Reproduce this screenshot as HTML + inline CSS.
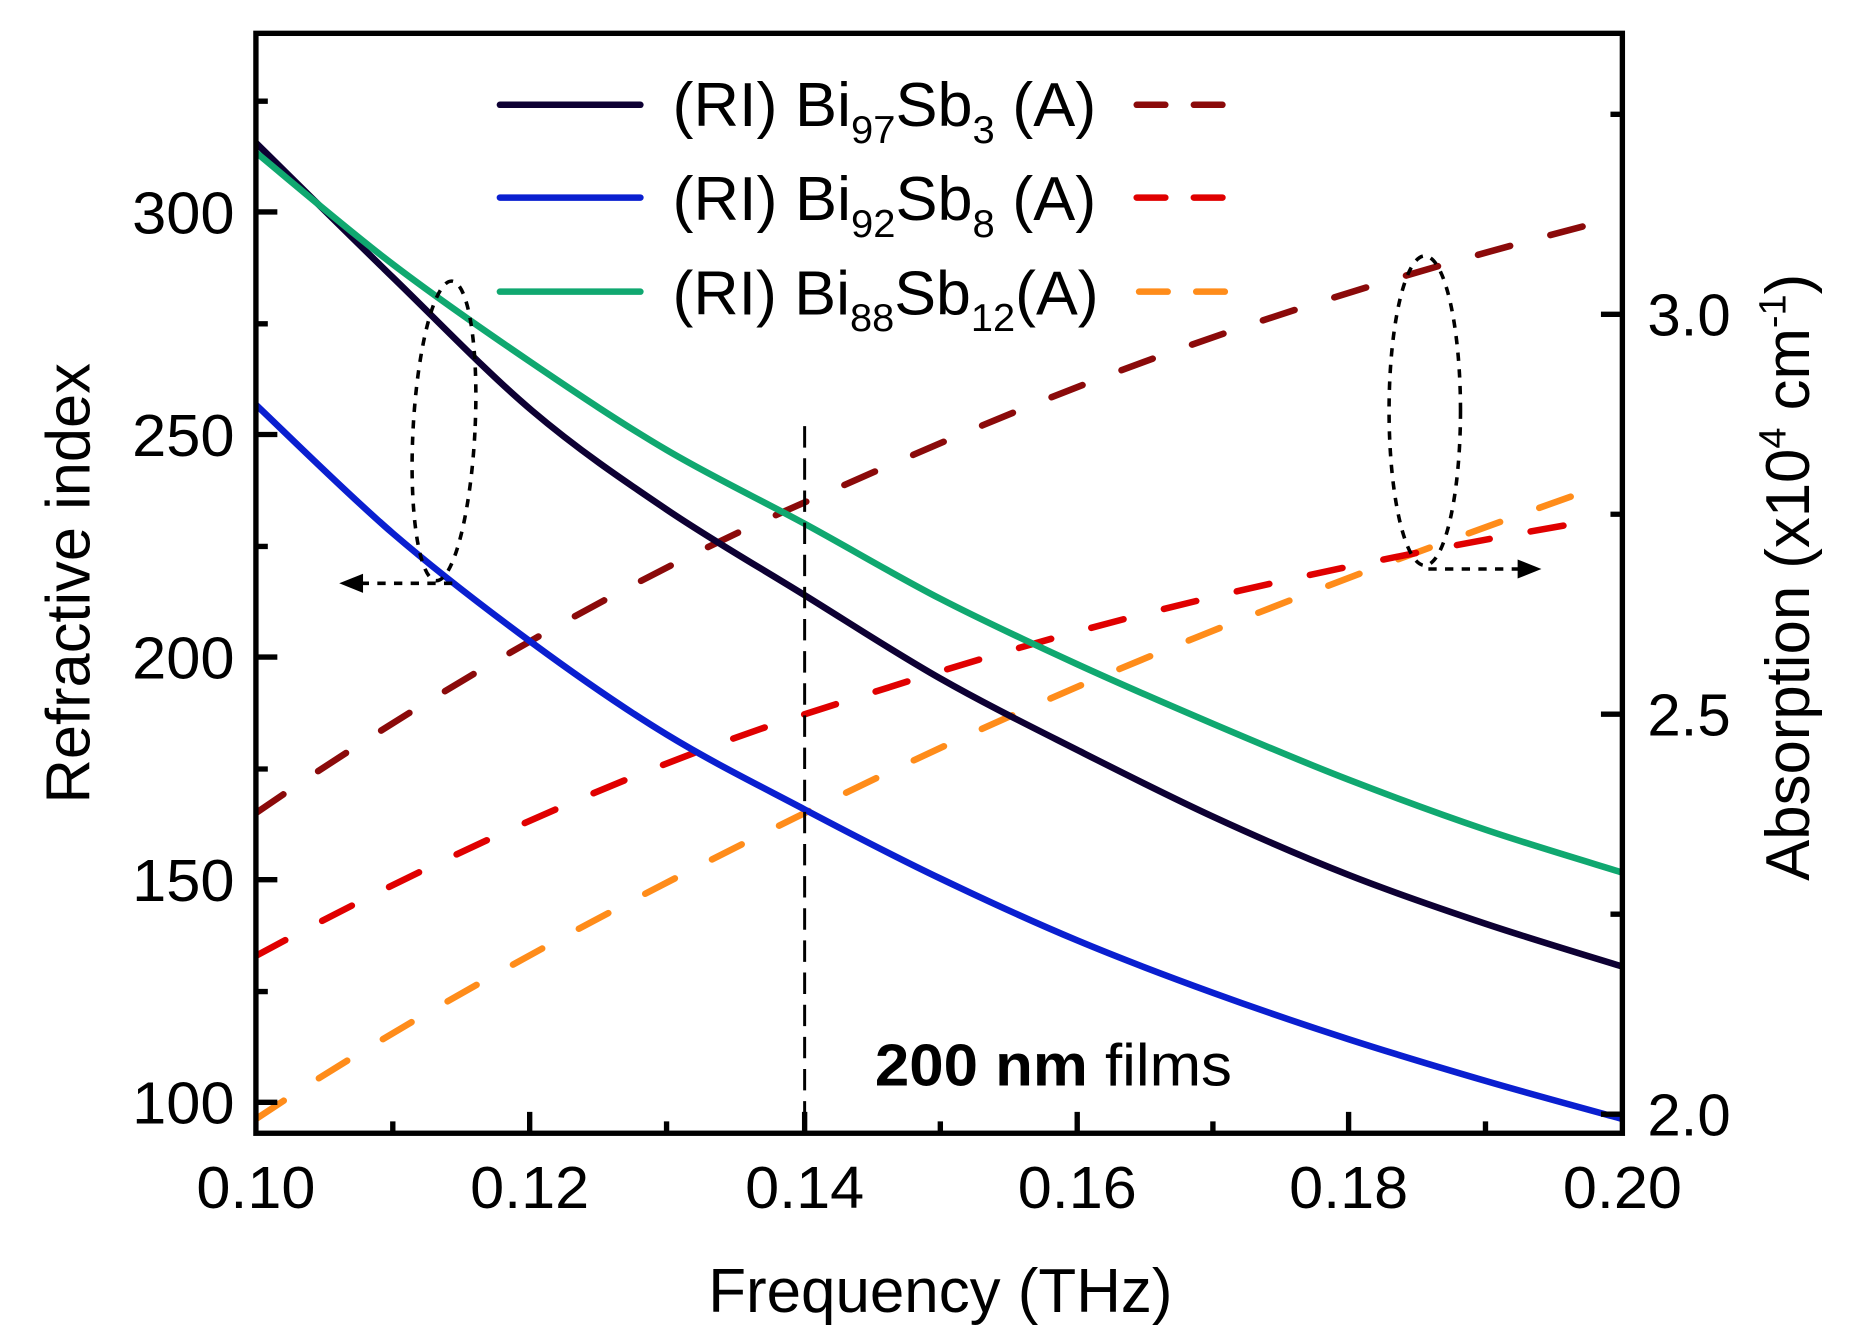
<!DOCTYPE html>
<html><head><meta charset="utf-8"><style>html,body{margin:0;padding:0;background:#fff}svg{display:block}</style></head>
<body>
<svg id="s" width="1864" height="1338" viewBox="0 0 1566 1124" preserveAspectRatio="none" xmlns="http://www.w3.org/2000/svg" font-family="Liberation Sans, Arial, sans-serif">
<defs><clipPath id="c"><rect x="215" y="28" width="1148" height="924"/></clipPath></defs>
<g clip-path="url(#c)" fill="none" stroke-width="5.5" stroke-linecap="round">
<path d="M215,940 C350,850 520,760 676,683 S1000,530 1340,410" stroke="#ff8c1a" stroke-dasharray="28,35"/>
<path d="M215,803 C350,730 520,650 676,600 S1000,495 1340,437" stroke="#e00000" stroke-dasharray="28,35"/>
<path d="M215,683 C350,590 520,490 676,422 S1000,275 1350,185" stroke="#8b0a0a" stroke-dasharray="28,35"/>
<path id="blue" d="" stroke="#0a1fd0"/>
<path id="black" d="" stroke="#0d0033"/>
<path id="green" d="" stroke="#10a870"/>
</g>
<line x1="676" y1="358" x2="676" y2="952" stroke="#000" stroke-width="2.5" stroke-dasharray="18,9"/>
<g fill="none" stroke="#000" stroke-width="3" stroke-dasharray="7,7">
<ellipse cx="373" cy="362" rx="26" ry="126" transform="rotate(3 373 362)"/>
<path d="M380,490 H300"/>
<ellipse cx="1197" cy="345" rx="30" ry="130"/>
<path d="M1200,478 H1278"/>
</g>
<path d="M285,490 L305,482 L305,498 Z" fill="#000"/>
<path d="M1295,478 L1275,470 L1275,486 Z" fill="#000"/>
<g stroke="#000" stroke-width="4.5" fill="none">
<rect x="215" y="28" width="1148" height="924"/>
<path d="M215,926h18M215,739h18M215,552h18M215,365h18M215,178h18M215,833h10M215,646h10M215,459h10M215,272h10M215,85h10"/>
<path d="M1363,936h-18M1363,600h-18M1363,264h-18M1363,768h-10M1363,432h-10M1363,96h-10"/>
<path d="M445,952v-18M676,952v-18M905,952v-18M1133,952v-18M330,952v-10M560,952v-10M790,952v-10M1019,952v-10M1248,952v-10"/>
</g>
<g font-size="50" fill="#000">
<g text-anchor="end">
<text x="197" y="944" textLength="86" lengthAdjust="spacingAndGlyphs">100</text><text x="197" y="757" textLength="86" lengthAdjust="spacingAndGlyphs">150</text><text x="197" y="570" textLength="86" lengthAdjust="spacingAndGlyphs">200</text><text x="197" y="383" textLength="86" lengthAdjust="spacingAndGlyphs">250</text><text x="197" y="196" textLength="86" lengthAdjust="spacingAndGlyphs">300</text>
</g>
<g text-anchor="start">
<text x="1384" y="954" textLength="70" lengthAdjust="spacingAndGlyphs">2.0</text><text x="1384" y="618" textLength="70" lengthAdjust="spacingAndGlyphs">2.5</text><text x="1384" y="282" textLength="70" lengthAdjust="spacingAndGlyphs">3.0</text>
</g>
<g text-anchor="middle">
<text x="215" y="1015" textLength="100" lengthAdjust="spacingAndGlyphs">0.10</text><text x="445" y="1015" textLength="100" lengthAdjust="spacingAndGlyphs">0.12</text><text x="676" y="1015" textLength="100" lengthAdjust="spacingAndGlyphs">0.14</text><text x="905" y="1015" textLength="100" lengthAdjust="spacingAndGlyphs">0.16</text><text x="1133" y="1015" textLength="100" lengthAdjust="spacingAndGlyphs">0.18</text><text x="1363" y="1015" textLength="100" lengthAdjust="spacingAndGlyphs">0.20</text>
</g>
<text x="790" y="1102" text-anchor="middle" font-size="52" textLength="390" lengthAdjust="spacingAndGlyphs">Frequency (THz)</text>
<text transform="translate(75,490) rotate(-90)" text-anchor="middle" font-size="52" textLength="370" lengthAdjust="spacingAndGlyphs">Refractive index</text>
<text transform="translate(1520,485) rotate(-90)" text-anchor="middle" font-size="52" textLength="510" lengthAdjust="spacingAndGlyphs">Absorption (x10<tspan dy="-20" font-size="32">4</tspan><tspan dy="20"> cm</tspan><tspan dy="-20" font-size="32">-1</tspan><tspan dy="20">)</tspan></text>
<text x="735" y="912" font-size="50" textLength="300" lengthAdjust="spacingAndGlyphs"><tspan font-weight="bold">200 nm</tspan> films</text>
</g>
<g stroke-width="5.5" stroke-linecap="round">
<line x1="420" y1="88" x2="538" y2="88" stroke="#0d0033"/>
<line x1="420" y1="166" x2="538" y2="166" stroke="#0a1fd0"/>
<line x1="420" y1="245" x2="538" y2="245" stroke="#10a870"/>
<line x1="955" y1="88" x2="1045" y2="88" stroke="#8b0a0a" stroke-dasharray="24,24"/>
<line x1="955" y1="166" x2="1045" y2="166" stroke="#e00000" stroke-dasharray="24,24"/>
<line x1="957" y1="245" x2="1047" y2="245" stroke="#ff8c1a" stroke-dasharray="24,24"/>
</g>
<g font-size="52" fill="#000">
<text x="565" y="106" textLength="356" lengthAdjust="spacingAndGlyphs">(RI) Bi<tspan dy="14" font-size="33">97</tspan><tspan dy="-14">Sb</tspan><tspan dy="14" font-size="33">3</tspan><tspan dy="-14">  (A)</tspan></text>
<text x="565" y="185" textLength="356" lengthAdjust="spacingAndGlyphs">(RI) Bi<tspan dy="14" font-size="33">92</tspan><tspan dy="-14">Sb</tspan><tspan dy="14" font-size="33">8</tspan><tspan dy="-14">  (A)</tspan></text>
<text x="565" y="264" textLength="358" lengthAdjust="spacingAndGlyphs">(RI) Bi<tspan dy="14" font-size="33">88</tspan><tspan dy="-14">Sb</tspan><tspan dy="14" font-size="33">12</tspan><tspan dy="-14">(A)</tspan></text>
</g>
</svg>
<script>
function cr(p){var d="M"+p[0][0]+","+p[0][1];for(var i=0;i<p.length-1;i++){var p0=p[i-1]||p[i],p1=p[i],p2=p[i+1],p3=p[i+2]||p2;
var c1x=p1[0]+(p2[0]-p0[0])/6,c1y=p1[1]+(p2[1]-p0[1])/6,c2x=p2[0]-(p3[0]-p1[0])/6,c2y=p2[1]-(p3[1]-p1[1])/6;
d+=" C"+c1x.toFixed(1)+","+c1y.toFixed(1)+" "+c2x.toFixed(1)+","+c2y.toFixed(1)+" "+p2[0]+","+p2[1];}return d;}
document.getElementById("black").setAttribute("d",cr([[215,120],[330,233],[447,345],[560,428],[676,500],[790,570],[905,630],[1019,686],[1133,735],[1248,776],[1363,812]]));
document.getElementById("green").setAttribute("d",cr([[215,128],[330,222],[447,305],[560,378],[676,440],[790,503],[905,558],[1019,608],[1133,655],[1248,697],[1363,733]]));
document.getElementById("blue").setAttribute("d",cr([[215,340],[330,448],[447,540],[560,617],[676,680],[790,738],[905,790],[1019,834],[1133,873],[1248,908],[1363,940]]));
</script>
</body></html>
